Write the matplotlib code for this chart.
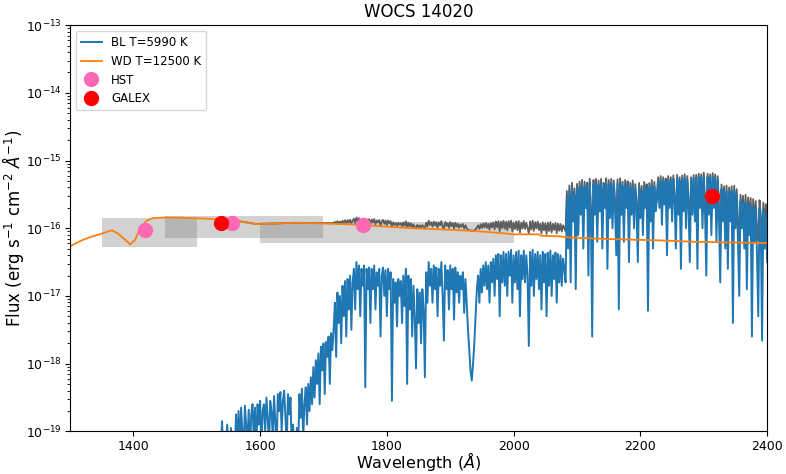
# SED of WOCS 14020: blue lurker model + white dwarf model + photometry
import numpy as np
import matplotlib.pyplot as plt

# WD model (T=12500 K), wavelength in Angstrom and log10 flux
wd_wave = [1300, 1316, 1332, 1347, 1366, 1376, 1387, 1395, 1403, 1410, 1421, 1431,
           1453, 1494, 1537, 1563, 1595, 1626, 1652, 1705, 1758, 1789, 1841, 1895,
           1936, 1979, 1999, 2040, 2042, 2073, 2081, 2094, 2152, 2231, 2283, 2400]
wd_logf = [-16.27, -16.19, -16.13, -16.09, -16.03, -16.08, -16.17, -16.24, -16.17, -16.01, -15.89, -15.85,
           -15.84, -15.85, -15.87, -15.89, -15.94, -15.93, -15.92, -15.93, -15.95, -15.97, -16.00, -16.02,
           -16.04, -16.07, -16.09, -16.09, -16.11, -16.12, -16.13, -16.14, -16.16, -16.18, -16.20, -16.22]

# BL model (T=5990 K), one value every 2 A from 1536 to 2400, log10 flux
bl_start, bl_step = 1536, 2
bl_logf = [
    -19.5, -19.3, -18.85, -19.4, -19.1, -19.4, -18.9, -19.2, -19.4, -18.95, -19.3, -19.1, -19.4, -18.75, -19.2,
    -18.7, -19.3, -18.65, -19.0, -19.35, -18.62, -18.9, -19.2, -18.68, -19.4, -18.75, -18.6, -19.1, -18.65, -19.3,
    -18.6, -18.9, -18.55, -19.3, -18.7, -18.6, -19.0, -18.5, -18.8, -19.25, -18.55, -18.7, -19.1, -18.48, -18.85,
    -19.3, -18.45, -18.7, -18.42, -19.0, -18.55, -18.4, -18.8, -19.2, -18.45, -18.75, -18.5, -19.3, -18.9, -19.4,
    -19.5, -18.95, -19.3, -18.45, -18.8, -18.37, -19.1, -18.6, -18.35, -18.9, -18.3, -18.7, -18.2, -18.6, -18.05,
    -18.5, -17.95, -18.3, -17.85, -18.6, -17.75, -18.1, -17.7, -18.45, -17.68, -17.9, -17.6, -18.3, -17.55, -17.8,
    -17.5, -17.1, -17.9, -16.95, -17.4, -17.0, -17.7, -16.85, -17.3, -16.78, -17.6, -16.75, -17.2, -16.7, -17.5,
    -16.8, -16.6, -17.2, -16.5, -16.9, -16.55, -17.3, -16.6, -16.85, -16.55, -18.35, -16.6, -16.9, -16.58, -17.4,
    -16.6, -16.9, -16.55, -17.2, -16.65, -16.85, -16.6, -17.6, -16.7, -16.58, -17.0, -16.62, -17.3, -16.6, -16.9,
    -16.65, -18.55, -16.75, -17.1, -16.8, -17.45, -16.75, -17.0, -16.78, -17.4, -16.7, -17.15, -16.6, -18.3, -16.7,
    -17.2, -16.75, -17.6, -16.85, -17.3, -18.07, -16.9, -17.4, -16.95, -17.7, -16.9, -17.2, -18.2, -16.65, -17.1,
    -16.5, -16.85, -16.6, -17.1, -16.55, -16.9, -16.58, -17.3, -16.6, -16.85, -16.5, -17.0, -17.66, -16.55, -16.9,
    -16.62, -17.2, -16.55, -16.9, -16.6, -17.35, -16.58, -16.95, -16.65, -17.1, -16.7, -16.9, -16.65, -17.25, -16.75,
    -17.1, -17.5, -17.8, -18.1, -18.25, -18.0, -17.7, -17.3, -16.9, -16.7, -17.1, -16.6, -16.95, -16.55, -16.85,
    -16.5, -16.9, -16.55, -17.1, -16.5, -16.8, -16.45, -17.0, -16.4, -16.75, -16.38, -17.3, -16.4, -16.8, -16.35,
    -16.85, -16.38, -17.0, -16.35, -16.7, -16.32, -17.1, -16.4, -16.8, -16.35, -16.9, -16.33, -17.3, -16.4, -16.75,
    -16.33, -16.8, -16.4, -16.7, -17.74, -16.35, -16.85, -16.32, -17.0, -16.38, -16.75, -16.35, -16.9, -16.4, -17.2,
    -16.35, -16.8, -16.38, -17.3, -16.36, -16.85, -16.33, -17.0, -16.4, -16.75, -16.36, -17.1, -16.38, -16.8, -16.4,
    -16.85, -16.45, -16.6, -16.8, -15.55, -16.3, -15.45, -16.8, -15.4, -15.9, -15.5, -16.9, -15.42, -16.1, -15.38,
    -15.8, -15.35, -16.3, -15.38, -15.7, -15.4, -16.7, -15.33, -15.9, -17.6, -15.35, -15.8, -15.33, -16.2, -15.36,
    -15.75, -15.33, -16.3, -15.4, -15.7, -15.32, -16.6, -15.35, -15.85, -15.33, -16.0, -15.36, -15.7, -16.4, -15.34,
    -17.2, -15.32, -15.8, -15.38, -16.2, -15.35, -15.7, -15.37, -16.5, -15.4, -15.8, -15.36, -16.0, -15.42, -15.75,
    -16.5, -15.4, -15.85, -15.45, -16.1, -15.38, -15.7, -15.42, -17.22, -15.4, -15.9, -15.35, -16.3, -15.38, -15.75,
    -15.6, -15.3, -15.7, -15.28, -15.95, -15.3, -15.65, -15.32, -16.4, -15.28, -15.7, -15.3, -15.9, -15.27, -15.6,
    -16.3, -15.26, -15.8, -15.3, -16.6, -15.27, -15.75, -15.25, -16.0, -15.28, -15.7, -16.5, -15.3, -15.8, -15.26,
    -15.9, -15.26, -16.6, -15.24, -15.7, -15.25, -16.0, -15.22, -15.75, -16.7, -15.24, -15.8, -15.25, -16.1, -15.23,
    -15.7, -15.25, -16.2, -15.28, -15.8, -16.8, -15.42, -15.9, -15.45, -16.3, -15.44, -16.6, -15.47, -15.9, -15.45,
    -17.4, -15.44, -16.0, -15.5, -16.2, -17.0, -15.6, -16.0, -15.62, -16.3, -15.6, -16.9, -15.65, -16.1, -15.66,
    -17.6, -15.68, -16.2, -15.72, -16.4, -17.3, -15.7, -16.0, -17.66, -15.75, -16.3, -15.78, -16.5,
]

# photometry: HST filters (band limits, flux range) and GALEX points
hst_wave = [1418, 1555, 1762]
hst_flux = [9.4e-17, 1.18e-16, 1.1e-16]
hst_band_lo = [1350, 1450, 1600]
hst_band_hi = [1500, 1700, 2000]
hst_flux_lo = [5.3e-17, 7.1e-17, 5.95e-17]
hst_flux_hi = [1.44e-16, 1.51e-16, 1.23e-16]
galex_wave = [1539, 2313]
galex_flux = [1.18e-16, 2.95e-16]

bl_wave = bl_start + bl_step * np.arange(len(bl_logf))
bl_flux = 10 ** np.array(bl_logf)
wd_flux = 10 ** np.array(wd_logf)
total = bl_flux + np.interp(bl_wave, wd_wave, wd_flux)   # BL + WD combined

fig, ax = plt.subplots(figsize=(7.86, 4.74), dpi=100)
fig.subplots_adjust(left=0.089, right=0.976, top=0.947, bottom=0.09)

for i in range(len(hst_wave)):
    ax.fill_between([hst_band_lo[i], hst_band_hi[i]], hst_flux_lo[i], hst_flux_hi[i],
                    color='gray', alpha=0.35, linewidth=0)

ax.plot(bl_wave, total, color='0.37', linewidth=1.3)
ax.plot(bl_wave, bl_flux, color='C0', linewidth=1.4, label='BL T=5990 K')
ax.plot(wd_wave, wd_flux, color='C1', linewidth=1.3, label='WD T=12500 K')
ax.plot(hst_wave, hst_flux, 'o', color='hotpink', markersize=10, label='HST')
ax.plot(galex_wave, galex_flux, 'o', color='red', markersize=10, label='GALEX')

ax.set_yscale('log')
ax.set_xlim(1300, 2400)
ax.set_ylim(1e-19, 1e-13)
ax.tick_params(labelsize=9, pad=2.5)
ax.set_xlabel(r'Wavelength ($\AA$)', fontsize=11.5)
ax.set_ylabel(r'Flux (erg s$^{-1}$ cm$^{-2}$ $\AA^{-1}$)', fontsize=12)
ax.xaxis.set_label_coords(0.5, -0.047)
ax.yaxis.set_label_coords(-0.063, 0.5)
ax.set_title('WOCS 14020', fontsize=12, pad=6)
ax.legend(loc='upper left', fontsize=8.5, handlelength=1.8)

plt.savefig('out.png')
